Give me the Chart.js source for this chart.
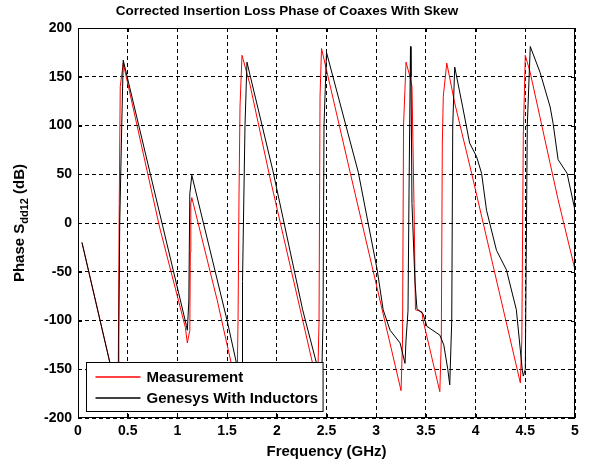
<!DOCTYPE html>
<html>
<head>
<meta charset="utf-8">
<script src="https://cdn.jsdelivr.net/npm/chart.js@4.4.1/dist/chart.umd.min.js"></script>
<style>
    html, body { margin: 0; padding: 0; background: #ffffff; }
    canvas { display: block; }
</style>
</head>
<body>
<canvas id="chart" width="592" height="465"></canvas>
<script>
const chartTitle = 'Corrected Insertion Loss Phase of Coaxes With Skew';
const seriesNames = ['Measurement', 'Genesys With Inductors'];
const seriesColors = ['#ff0000', '#000000'];

const measFreq = [0.04, 0.40, 0.405, 0.415, 0.425, 0.455, 0.82, 1.08, 1.10, 1.125, 1.13, 1.135, 1.145,
    1.40, 1.50, 1.60, 1.61, 1.62, 1.63, 1.65, 1.73, 1.93, 2.36, 2.41, 2.425, 2.435, 2.45, 2.74,
    3.25, 3.265, 3.275, 3.30, 3.34, 3.36, 3.38, 3.395, 3.46, 3.47, 3.64, 3.655, 3.665, 3.675, 3.71,
    3.79, 3.96, 4.45, 4.465, 4.48, 4.49, 4.50, 4.55, 4.75, 4.83, 5.0];
const measPhase = [-20, -178, -150, 20, 140, 164, -4, -107, -123, -110, -30, 20, 26,
    -79, -125, -170, -100, 30, 120, 172, 142, 47, -144, -170, -100, 130, 179, 51,
    -172, -120, 100, 165, 150, 140, 20, -89, -91, -99, -173, -120, 80, 130, 164,
    123, 51, -164, -120, 90, 130, 172, 154, 61, 24, -48];

const genFreq = [0.04, 0.40, 0.405, 0.41, 0.42, 0.44, 0.455, 1.09, 1.10, 1.115, 1.125, 1.145,
    1.50, 1.64, 1.65, 1.655, 1.68, 1.70, 1.73, 1.96, 2.26, 2.40, 2.45, 2.465, 2.475, 2.50,
    2.82, 3.01, 3.07, 3.14, 3.24, 3.29, 3.30, 3.32, 3.33, 3.345, 3.35, 3.36, 3.39, 3.41,
    3.47, 3.51, 3.64, 3.68, 3.72, 3.74, 3.76, 3.77, 3.79, 3.87, 3.94, 4.01, 4.06, 4.11,
    4.21, 4.31, 4.41, 4.47, 4.48, 4.50, 4.52, 4.55, 4.65, 4.75, 4.78, 4.83, 4.92, 5.0];
const genPhase = [-20, -178, -160, -120, 0, 100, 167, -105, -110, -80, 30, 49,
    -100, -165, -172, -60, 100, 165, 152, 54, -89, -144, -168, -100, 100, 175,
    52, -48, -89, -110, -123, -144, -120, -90, 30, 181, 150, 20, -60, -88,
    -93, -106, -115, -125, -150, -166, -100, 100, 160, 119, 82, 68, 51, 13,
    -28, -48, -89, -151, -157, -150, 100, 181, 154, 119, 102, 65, 51, 13];

const freqTicks = [0, 0.5, 1, 1.5, 2, 2.5, 3, 3.5, 4, 4.5, 5];
const phaseTicks = [-200, -150, -100, -50, 0, 50, 100, 150, 200];

const fontFamily = '"Liberation Sans", Arial, Helvetica, sans-serif';

function toPoints(xs, ys) {
    return xs.map((x, i) => ({ x, y: ys[i] }));
}

// frame, inward ticks, title, y label with subscript and the boxed legend
const matlabDecor = {
    id: 'matlabDecor',
    afterDatasetsDraw(chart) {
        const { ctx, chartArea: area, scales } = chart;
        ctx.save();

        ctx.strokeStyle = '#000000';
        ctx.lineWidth = 1;
        ctx.setLineDash([]);
        ctx.strokeRect(area.left + 0.5, area.top + 0.5, area.right - area.left - 1, area.bottom - area.top - 1);

        const tick = 4;
        ctx.beginPath();
        freqTicks.forEach((v) => {
            const px = Math.round(scales.x.getPixelForValue(v)) + 0.5;
            ctx.moveTo(px, area.bottom);
            ctx.lineTo(px, area.bottom - tick);
            ctx.moveTo(px, area.top);
            ctx.lineTo(px, area.top + tick);
        });
        phaseTicks.forEach((v) => {
            const py = Math.round(scales.y.getPixelForValue(v)) + 0.5;
            ctx.moveTo(area.left, py);
            ctx.lineTo(area.left + tick, py);
            ctx.moveTo(area.right, py);
            ctx.lineTo(area.right - tick, py);
        });
        ctx.stroke();

        // legend box
        ctx.font = 'bold 15px ' + fontFamily;
        const widest = Math.max(...seriesNames.map((s) => ctx.measureText(s).width));
        const boxX = area.left + 8.5;
        const boxY = area.bottom - 55.5;
        const boxW = 60 + widest + 5;
        const boxH = 49;
        ctx.fillStyle = '#ffffff';
        ctx.fillRect(boxX, boxY, boxW, boxH);
        ctx.strokeStyle = '#000000';
        ctx.strokeRect(boxX, boxY, boxW, boxH);
        seriesNames.forEach((name, i) => {
            const rowY = Math.round(boxY + 14 + i * 21);
            ctx.beginPath();
            ctx.strokeStyle = seriesColors[i];
            ctx.lineWidth = 1.3;
            ctx.moveTo(boxX + 9, rowY);
            ctx.lineTo(boxX + 54, rowY);
            ctx.stroke();
            ctx.fillStyle = '#000000';
            ctx.textBaseline = 'middle';
            ctx.textAlign = 'left';
            ctx.fillText(name, boxX + 60, rowY + 1);
        });

        // title
        ctx.fillStyle = '#000000';
        ctx.font = 'bold 13.5px ' + fontFamily;
        ctx.textAlign = 'center';
        ctx.textBaseline = 'alphabetic';
        ctx.fillText(chartTitle, 287, 15);

        // y label: Phase S_dd12 (dB)
        const parts = [['Phase S', 15, 0], ['dd12', 11, 4], [' (dB)', 15, 0]];
        const widths = parts.map(([t, size]) => {
            ctx.font = 'bold ' + size + 'px ' + fontFamily;
            return ctx.measureText(t).width;
        });
        const total = widths.reduce((a, b) => a + b, 0);
        ctx.translate(24, (area.top + area.bottom) / 2);
        ctx.rotate(-Math.PI / 2);
        ctx.textAlign = 'left';
        let pos = -total / 2;
        parts.forEach(([t, size, shift], i) => {
            ctx.font = 'bold ' + size + 'px ' + fontFamily;
            ctx.fillText(t, pos, shift);
            pos += widths[i];
        });

        ctx.restore();
    },
};

const gridStyle = {
    color: '#000000',
    lineWidth: 1,
    drawTicks: false,
};

new Chart(document.getElementById('chart'), {
    type: 'line',
    data: {
        datasets: [
            {
                label: seriesNames[0],
                data: toPoints(measFreq, measPhase),
                borderColor: seriesColors[0],
                borderWidth: 1,
                order: 2,
            },
            {
                label: seriesNames[1],
                data: toPoints(genFreq, genPhase),
                borderColor: seriesColors[1],
                borderWidth: 1,
                order: 1,
            },
        ],
    },
    options: {
        responsive: false,
        animation: false,
        events: [],
        layout: {
            padding: { top: 28, right: 17, bottom: 0, left: 0 },
        },
        elements: {
            point: { radius: 0 },
            line: { tension: 0 },
        },
        plugins: {
            legend: { display: false },
            tooltip: { enabled: false },
            title: { display: false },
        },
        scales: {
            x: {
                type: 'linear',
                min: 0,
                max: 5,
                afterFit: (scale) => { scale.height = 47; },
                afterBuildTicks: (scale) => { scale.ticks = freqTicks.map((value) => ({ value })); },
                border: { display: false, dash: [4, 3] },
                grid: { ...gridStyle },
                ticks: {
                    padding: 5,
                    color: '#000000',
                    maxRotation: 0,
                    autoSkip: false,
                    font: { family: fontFamily, size: 14, weight: 'bold' },
                    callback: (v) => String(v),
                },
                title: {
                    display: true,
                    text: 'Frequency (GHz)',
                    color: '#000000',
                    padding: { top: 0, bottom: 4 },
                    font: { family: fontFamily, size: 15, weight: 'bold' },
                },
            },
            y: {
                min: -200,
                max: 200,
                afterFit: (scale) => { scale.width = 78; },
                afterBuildTicks: (scale) => { scale.ticks = phaseTicks.map((value) => ({ value })); },
                border: { display: false, dash: [4, 3] },
                grid: { ...gridStyle },
                ticks: {
                    padding: 6,
                    color: '#000000',
                    autoSkip: false,
                    font: { family: fontFamily, size: 14, weight: 'bold' },
                    callback: (v) => String(v),
                },
            },
        },
    },
    plugins: [matlabDecor],
});
</script>
</body>
</html>
